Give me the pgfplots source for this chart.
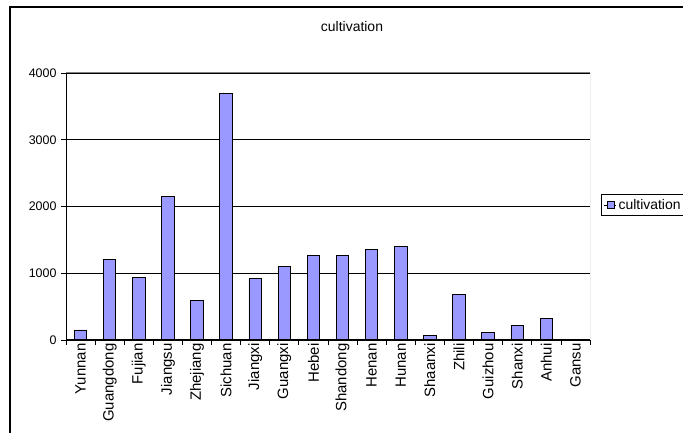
\documentclass[border=0pt]{standalone}
\usepackage{pgfplots}
\usepackage{pgfplotstable}
\pgfplotsset{compat=1.18}
\usepackage{fontspec}
\setmainfont{Liberation Sans}
\definecolor{barfill}{HTML}{9999FF}
\definecolor{plotframe}{HTML}{808080}

% Cultivation by province
\pgfplotstableread{
idx region value
0 Yunnan 150
1 Guangdong 1200
2 Fujian 935
3 Jiangsu 2155
4 Zhejiang 585
5 Sichuan 3690
6 Jiangxi 920
7 Guangxi 1100
8 Hebei 1270
9 Shandong 1270
10 Henan 1350
11 Hunan 1400
12 Shaanxi 70
13 Zhili 685
14 Guizhou 115
15 Shanxi 215
16 Anhui 320
17 Gansu 0
}\cultivation

\begin{document}
\begin{tikzpicture}[x=1bp,y=1bp]
\useasboundingbox (0,0) rectangle (683,433);
\clip (0,0) rectangle (683,433);
\fill[white] (0,0) rectangle (683,433);
% chart area frame
\draw[black, line width=1.2bp] (10,-10) -- (10,426) -- (700,426);
\node[font=\fontsize{14}{16}\selectfont] at (352,406) {cultivation};
\begin{axis}[
  at={(66bp,93bp)}, anchor=south west, scale only axis,
  width=524bp, height=267bp,
  xmin=-0.5, xmax=17.5, ymin=0, ymax=4000,
  axis line style={draw=none},
  tick align=outside,
  xtick pos=bottom, ytick pos=left,
  major tick length=5bp,
  tick style={black, line width=0.8bp},
  ytick={0,1000,2000,3000,4000},
  ymajorgrids,
  grid style={black, line width=0.8bp},
  /pgf/number format/assume math mode=true,
  /pgf/number format/1000 sep={},
  yticklabel style={font=\fontsize{12.5}{14}\selectfont, xshift=-1bp},
  xtick={-0.5,0.5,...,17.5},
  xticklabels={},
  extra x ticks={0,...,17},
  extra x tick labels={Yunnan,Guangdong,Fujian,Jiangsu,Zhejiang,Sichuan,Jiangxi,Guangxi,Hebei,Shandong,Henan,Hunan,Shaanxi,Zhili,Guizhou,Shanxi,Anhui,Gansu},
  extra x tick style={major tick length=0pt,
    tick label style={rotate=90, anchor=east, font=\fontsize{15}{17}\selectfont}},
  legend style={at={(1.0215,0.505)}, anchor=west, draw=black, line width=0.8bp,
    font=\fontsize{14}{16}\selectfont, inner xsep=2bp, inner ysep=2.5bp},
  legend image code/.code={%
    \path (0bp,0bp) -- (12bp,0bp);
    \draw[fill=barfill, draw=black, line width=0.8bp] (3bp,-3.5bp) rectangle (10bp,3.5bp);},
]
\addplot[ybar, bar width=12.5bp, fill=barfill, draw=black, line width=0.9bp]
  table[x=idx, y=value]{\cultivation};
\addlegendentry{cultivation}
\draw[plotframe, line width=1bp] (rel axis cs:0,1) -- (rel axis cs:1,1) -- (rel axis cs:1,0);
\draw[black, line width=1bp] (rel axis cs:0,1) -- (rel axis cs:0,0) -- (rel axis cs:1,0);
\end{axis}
\end{tikzpicture}
\end{document}
